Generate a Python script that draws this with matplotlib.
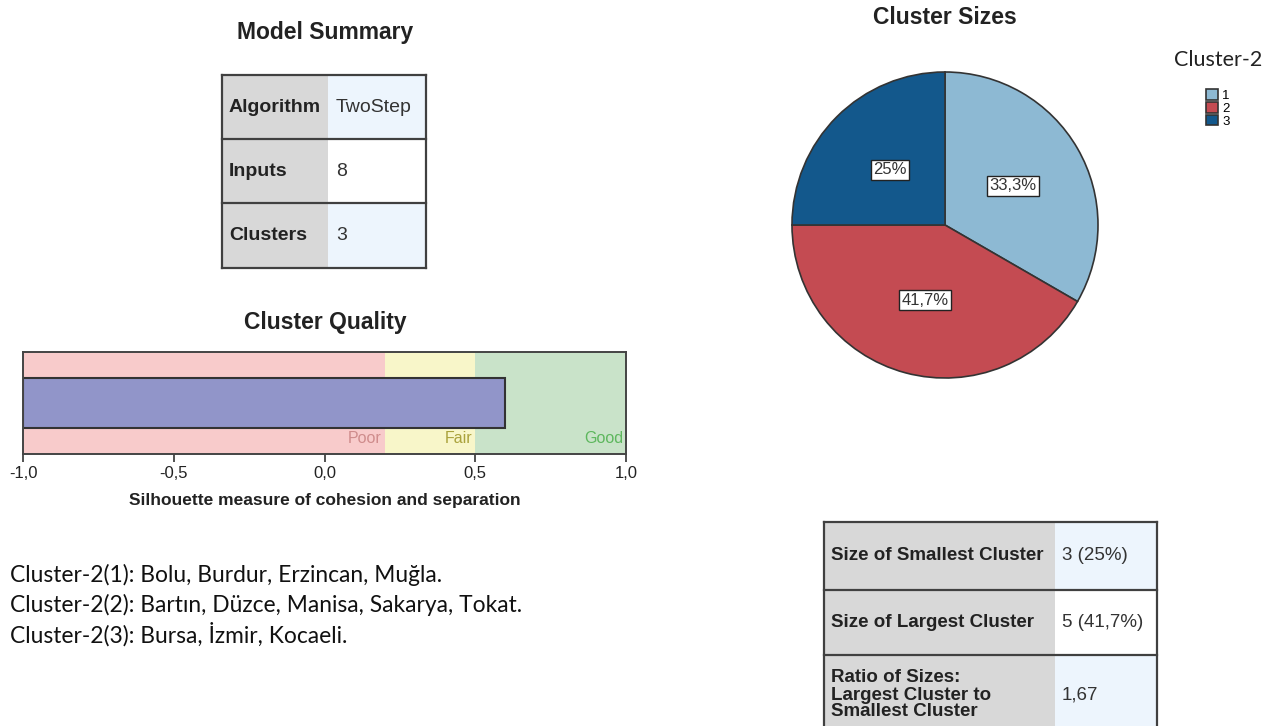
import matplotlib
matplotlib.use("Agg")
import matplotlib.pyplot as plt
from matplotlib.patches import Rectangle

# ---------------- data ----------------
summary_labels = ["Algorithm", "Inputs", "Clusters"]
summary_values = ["TwoStep", "8", "3"]

silhouette = 0.6
band_names = ["Poor", "Fair", "Good"]
band_edges = [-1.0, 0.2, 0.5, 1.0]
xticks = [-1.0, -0.5, 0.0, 0.5, 1.0]
xtick_labels = ["-1,0", "-0,5", "0,0", "0,5", "1,0"]

cluster_ids = ["1", "2", "3"]
cluster_counts = [4, 5, 3]

size_labels = ["Size of Smallest Cluster", "Size of Largest Cluster",
               "Ratio of Sizes:\nLargest Cluster to\nSmallest Cluster"]
size_values = ["3 (25%)", "5 (41,7%)", "1,67"]

member_lines = [
    "Cluster-2(1): Bolu, Burdur, Erzincan, Muğla.",
    "Cluster-2(2): Bartın, Düzce, Manisa, Sakarya, Tokat.",
    "Cluster-2(3): Bursa, İzmir, Kocaeli.",
]

# ---------------- style ----------------
W, H = 1277, 726
ARIAL = "Liberation Sans"
CAL = "Lato"
GRAY = "#d8d8d8"
LBLUE = "#edf5fd"
EDGE = "#404040"
band_colors = ["#f8cbcb", "#f8f6c9", "#c9e3c9"]
band_text_colors = ["#cf8c8c", "#aaa23c", "#5db75d"]
pie_colors = ["#8db9d3", "#c44b52", "#13588c"]

fig = plt.figure(figsize=(W / 100, H / 100), dpi=100)
bg = fig.add_axes([0, 0, 1, 1])
bg.set_xlim(0, W)
bg.set_ylim(H, 0)
bg.axis("off")


def draw_table(x0, y0, col_w, row_h, labels, values, value_bgs, lpad, vpad,
               fs, linespacing=1.1):
    y = y0
    total_w = sum(col_w)
    for lab, val, vbg, rh in zip(labels, values, value_bgs, row_h):
        bg.add_patch(Rectangle((x0, y), col_w[0], rh, fc=GRAY, ec="none"))
        bg.add_patch(Rectangle((x0 + col_w[0], y), col_w[1], rh, fc=vbg, ec="none"))
        bg.plot([x0, x0 + total_w], [y, y], color=EDGE, lw=1.6)
        bg.text(x0 + lpad, y + rh / 2, lab, family=ARIAL, weight="bold",
                fontsize=fs, va="center", ha="left", color="#222222",
                linespacing=linespacing)
        bg.text(x0 + col_w[0] + vpad, y + rh / 2, val, family=ARIAL,
                fontsize=fs, va="center", ha="left", color="#333333")
        y += rh
    bg.plot([x0, x0 + total_w], [y, y], color=EDGE, lw=1.6)
    bg.plot([x0, x0], [y0, y], color=EDGE, lw=1.6)
    bg.plot([x0 + total_w, x0 + total_w], [y0, y], color=EDGE, lw=1.6)


# Model summary
bg.text(325, 32, "Model Summary", family=ARIAL, weight="bold", fontsize=16.5,
        ha="center", va="center", color="#222222")
draw_table(222, 75, [106, 98], [64, 64, 65], summary_labels, summary_values,
           [LBLUE, "white", LBLUE], 7, 8, 14)

# Cluster quality
bg.text(325, 322, "Cluster Quality", family=ARIAL, weight="bold", fontsize=16.5,
        ha="center", va="center", color="#222222")
axq = fig.add_axes([23 / W, (H - 454) / H, 603 / W, 102 / H])
for i, name in enumerate(band_names):
    axq.axvspan(band_edges[i], band_edges[i + 1], color=band_colors[i], lw=0)
    axq.text(band_edges[i + 1] - 0.01, 0.155, name, ha="right", va="center",
             family=ARIAL, fontsize=11.5, color=band_text_colors[i])
axq.barh([0.5], [silhouette - (-1.0)], left=-1.0, height=0.49,
         color="#9195c9", edgecolor="#333333", lw=1.5)
axq.set_xlim(-1.0, 1.0)
axq.set_ylim(0, 1)
axq.set_yticks([])
axq.set_xticks(xticks)
axq.set_xticklabels(xtick_labels, family=ARIAL, fontsize=12, color="#222222")
axq.tick_params(axis="x", length=6, width=1.2, color="#333333", pad=3)
for s in axq.spines.values():
    s.set_color("#444444")
    s.set_linewidth(1.4)
axq.set_xlabel("Silhouette measure of cohesion and separation", family=ARIAL,
               weight="bold", fontsize=12.5, color="#222222", labelpad=8)

# Pie
bg.text(945, 18, "Cluster Sizes", family=ARIAL, weight="bold", fontsize=16.5,
        ha="center", va="center", color="#222222")
R = 153
axp = fig.add_axes([(945 - 170) / W, (H - 225 - 170) / H, 340 / W, 340 / H])


def fmt(p):
    s = f"{p:.1f}"
    if s.endswith(".0"):
        s = s[:-2]
    return s.replace(".", ",") + "%"


wedges, _, autotexts = axp.pie(cluster_counts, colors=pie_colors, startangle=90,
                               counterclock=False, autopct=fmt, pctdistance=0.51,
                               wedgeprops=dict(edgecolor="#333333", linewidth=1.2))
for t in autotexts:
    t.set_family(ARIAL)
    t.set_fontsize(12)
    t.set_color("#333333")
    t.set_bbox(dict(boxstyle="square,pad=0.15", fc="white", ec="#222222", lw=1))
axp.set_xlim(-170 / R, 170 / R)
axp.set_ylim(-170 / R, 170 / R)
axp.set_aspect("equal")
axp.axis("off")

bg.text(1218, 60, "Cluster-2", family=CAL, fontsize=15.5, ha="center",
        va="center", color="#222222")
leg = fig.legend(wedges, cluster_ids, loc="upper center",
                 bbox_to_anchor=(1218 / W, (H - 80) / H), frameon=False,
                 prop=dict(family=ARIAL, size=9.5), handlelength=0.85,
                 handleheight=0.85, labelspacing=0.0, handletextpad=0.35,
                 borderpad=0.2)
for h in leg.legend_handles:
    h.set_edgecolor("#333333")

# Sizes table
draw_table(824, 522, [231, 102], [68, 65, 80], size_labels, size_values,
           [LBLUE, "white", LBLUE], 7, 7, 13.5, linespacing=1.0)

# Member lines
for i, line in enumerate(member_lines):
    bg.text(10, 575 + 29.5 * i, line, family=CAL, fontsize=16.4, ha="left",
            va="center", color="#111111")

fig.savefig("out.png", dpi=100)
